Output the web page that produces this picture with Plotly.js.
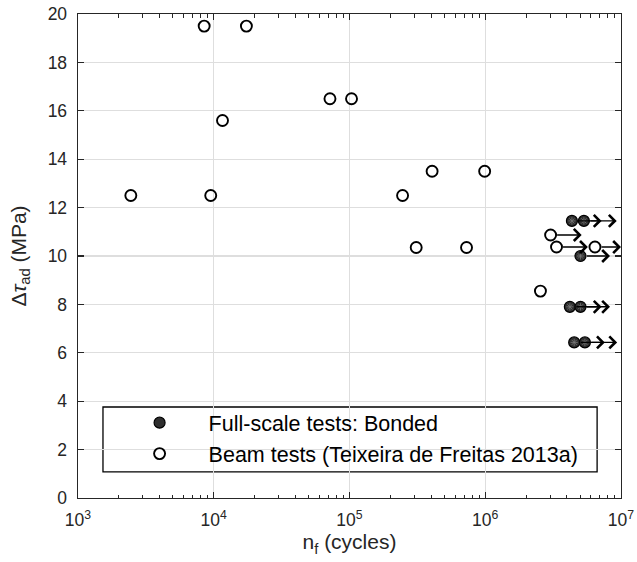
<!DOCTYPE html>
<html>
<head>
<meta charset="utf-8">
<script src="https://cdn.plot.ly/plotly-3.0.1.min.js"></script>
<style>html,body{margin:0;padding:0;background:#fff;}#chart{width:637px;height:562px;}</style>
</head>
<body>
<div id="chart"></div>
<script>
// Beam tests (Teixeira de Freitas 2013a)
var beamN = [2450, 8500, 17400, 11600, 9500, 71800, 103500, 406000, 990000, 246000, 310000, 728000, 2550000, 3030000, 3350000, 6430000];
var beamS = [12.5, 19.5, 19.5, 15.6, 12.5, 16.5, 16.5, 13.5, 13.5, 12.5, 10.35, 10.35, 8.55, 10.87, 10.37, 10.37];
// Full-scale tests: Bonded
var fullN = [4350000, 5330000, 5030000, 4200000, 5030000, 4520000, 5420000];
var fullS = [11.45, 11.45, 10.0, 7.9, 7.9, 6.43, 6.43];
// Run-outs (arrows): start, end, stress
var runStartN = [4350000, 5330000, 5030000, 4200000, 5030000, 4520000, 5420000, 3030000, 3350000, 6430000];
var runEndN   = [7200000, 9300000, 8300000, 7200000, 8300000, 7600000, 9370000, 5130000, 5700000, 10000000];
var runS      = [11.45, 11.45, 10.0, 7.9, 7.9, 6.43, 6.43, 10.87, 10.37, 10.37];
// Axis ticks
var xTickVals = [1e3, 1e4, 1e5, 1e6, 1e7];
var xTickText = ['10<sup>3</sup>', '10<sup>4</sup>', '10<sup>5</sup>', '10<sup>6</sup>', '10<sup>7</sup>'];
var yTickVals = [0, 2, 4, 6, 8, 10, 12, 14, 16, 18, 20];

var FONT = 'Liberation Sans, Arial, sans-serif';
var AXC = '#262626';

var traces = [
  {
    x: fullN, y: fullS, type: 'scatter', mode: 'markers',
    name: 'Full-scale tests: Bonded',
    marker: {symbol: 'circle', size: 11, color: '#2e2e2e', line: {color: '#000', width: 1.2}}
  },
  {
    x: fullN, y: fullS, type: 'scatter', mode: 'markers', showlegend: false, hoverinfo: 'skip',
    marker: {symbol: 'asterisk-open', size: 6, color: '#777', line: {color: '#777', width: 0.8}}
  },
  {
    x: beamN, y: beamS, type: 'scatter', mode: 'markers',
    name: 'Beam tests (Teixeira de Freitas 2013a)',
    marker: {symbol: 'circle-open', size: 11, color: '#000', line: {color: '#000', width: 1.9}}
  }
];

var annotations = runS.map(function (s, i) {
  return {
    x: Math.log10(runEndN[i]), y: s, ax: Math.log10(runStartN[i]), ay: s,
    xref: 'x', yref: 'y', axref: 'x', ayref: 'y',
    text: '', showarrow: true, arrowhead: 4, arrowsize: 1.65, arrowwidth: 1.4,
    arrowcolor: '#000', startstandoff: 5, standoff: 0
  };
});

var layout = {
  width: 637, height: 562,
  margin: {l: 78, r: 16, t: 14, b: 64},
  paper_bgcolor: '#fff', plot_bgcolor: '#fff',
  font: {family: FONT, size: 17, color: AXC},
  showlegend: true,
  legend: {
    x: 0.06, y: 0.198, xanchor: 'left', yanchor: 'top',
    bgcolor: 'rgba(0,0,0,0)', borderwidth: 0,
    font: {family: FONT, size: 21.5, color: '#000'},
    itemwidth: 88, tracegroupgap: 0
  },
  shapes: [{
    type: 'rect', xref: 'paper', yref: 'paper',
    x0: 0.046, x1: 0.956, y0: 0.054, y1: 0.188,
    line: {color: '#000', width: 1.3}, fillcolor: '#fff', layer: 'below'
  }],
  annotations: annotations,
  xaxis: {
    type: 'log', range: [3, 7],
    tickvals: xTickVals, ticktext: xTickText,
    ticks: 'inside', ticklen: 6, tickwidth: 1.2, tickcolor: AXC,
    minor: {ticks: 'inside', ticklen: 3.5, tickwidth: 1, tickcolor: AXC, dtick: 'D1', showgrid: false},
    showgrid: true, gridcolor: '#dedede', gridwidth: 1.3,
    showline: true, linecolor: AXC, linewidth: 1.4, mirror: 'ticks',
    zeroline: false, ticklabelstandoff: 6,
    tickfont: {family: FONT, size: 17.5, color: AXC},
    title: {text: 'n<sub>f</sub> (cycles)', font: {family: FONT, size: 21, color: AXC}, standoff: 0}
  },
  yaxis: {
    range: [0, 20], tickvals: yTickVals,
    ticks: 'inside', ticklen: 6, tickwidth: 1.2, tickcolor: AXC,
    showgrid: true, gridcolor: '#dedede', gridwidth: 1.3,
    showline: true, linecolor: AXC, linewidth: 1.4, mirror: 'ticks',
    zeroline: false, ticklabelstandoff: 6,
    tickfont: {family: FONT, size: 17.5, color: AXC},
    title: {text: '\u0394<i>\u03C4</i><sub>ad</sub> (MPa)', font: {family: FONT, size: 21, color: AXC}, standoff: 15}
  }
};

Plotly.newPlot('chart', traces, layout, {staticPlot: true, displayModeBar: false});
</script>
</body>
</html>
